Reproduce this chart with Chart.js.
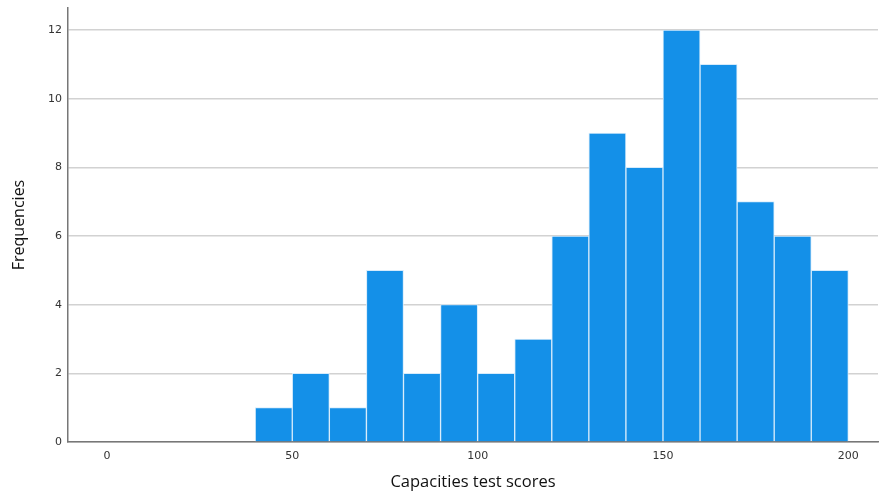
<!DOCTYPE html>
<html>
<head>
<meta charset="utf-8">
<script src="https://cdn.jsdelivr.net/npm/chart.js@4"></script>
<style>
  html, body { margin: 0; padding: 0; background: #fff; }
  #wrap { width: 879px; height: 496px; }
</style>
</head>
<body>
<div id="wrap"><canvas id="chart" width="879" height="496"></canvas></div>
<script>
// bin midpoints (width 10) and counts
const binMids = [45, 55, 65, 75, 85, 95, 105, 115, 125, 135, 145, 155, 165, 175, 185, 195];
const counts = [1, 2, 1, 5, 2, 4, 2, 3, 6, 9, 8, 12, 11, 7, 6, 5];
const xTicks = [0, 50, 100, 150, 200];
const yTicks = [0, 2, 4, 6, 8, 10, 12];

const ctx = document.getElementById('chart').getContext('2d');
new Chart(ctx, {
    type: 'bar',
    data: {
        datasets: [{
            data: binMids.map((x, i) => ({ x: x, y: counts[i] })),
            backgroundColor: '#1490e8',
            borderColor: '#d6ebfb',
            borderWidth: 1,
            barPercentage: 1,
            categoryPercentage: 1
        }]
    },
    options: {
        responsive: false,
        animation: false,
        layout: { padding: { top: 8, right: 1, left: 0, bottom: 0 } },
        plugins: { legend: { display: false }, tooltip: { enabled: false } },
        scales: {
            x: {
                type: 'linear',
                min: -10.5,
                max: 208,
                offset: false,
                afterBuildTicks: s => { s.ticks = xTicks.map(v => ({ value: v })); },
                afterFit: s => { s.height = 54; s.paddingLeft = 0; s.paddingRight = 0; },
                grid: { display: false, drawTicks: false },
                border: { color: '#777', width: 1.5 },
                ticks: { color: '#333', padding: 8, maxRotation: 0, font: { family: 'DejaVu Sans', size: 11 } },
                title: {
                    display: true,
                    text: 'Capacities test scores',
                    color: '#111',
                    padding: { top: 14 },
                    font: { family: 'Open Sans', size: 16.5 }
                }
            },
            y: {
                min: 0,
                max: 12.64,
                afterBuildTicks: s => { s.ticks = yTicks.map(v => ({ value: v })); },
                afterFit: s => { s.width = 68; s.paddingTop = 0; s.paddingBottom = 0; },
                grid: { color: '#d2d2d2', lineWidth: 1.5, drawTicks: false },
                border: { color: '#777', width: 1.5 },
                ticks: { color: '#333', padding: 6, font: { family: 'DejaVu Sans', size: 11 } },
                title: {
                    display: true,
                    text: 'Frequencies',
                    color: '#111',
                    padding: { bottom: 0, top: 10 },
                    font: { family: 'Open Sans', size: 16 }
                }
            }
        }
    }
});
</script>
</body>
</html>
